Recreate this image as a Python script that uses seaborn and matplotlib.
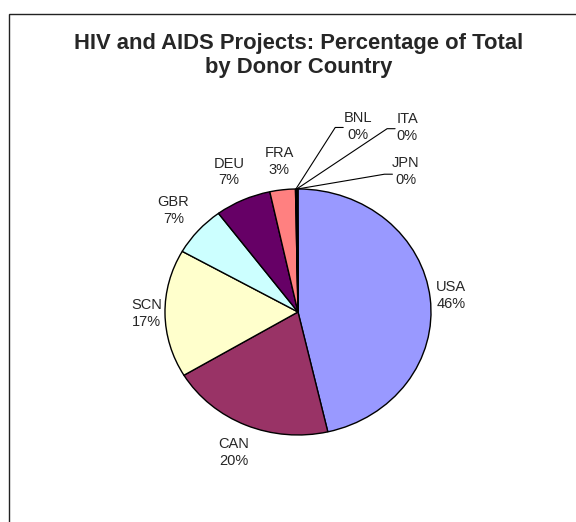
import numpy as np
import matplotlib
matplotlib.use("Agg")
import matplotlib.pyplot as plt
import seaborn as sns

# Share of HIV/AIDS projects by donor (clockwise from 12 o'clock)
donors = ["USA", "CAN", "SCN", "GBR", "DEU", "FRA", "BNL", "ITA", "JPN"]
shares = [46.4, 20.0, 16.8, 6.6, 6.8, 3.1, 0.1, 0.1, 0.1]
colors = ["#9999FF", "#993366", "#FFFFCC", "#CCFFFF", "#660066",
          "#FF8080", "#0066CC", "#CCCCFF", "#000080"]

# label distance from centre for the big slices
label_dist = [1.16, 1.24, 1.14, 1.25, 1.25, 1.23]
# the tiny slices get labels pulled out with leader lines
small_label_pos = {"BNL": (0.45, 1.51), "ITA": (0.82, 1.50), "JPN": (0.81, 1.14)}
small_elbow = {"BNL": (0.28, 1.50), "ITA": (0.67, 1.49), "JPN": (0.65, 1.12)}

sns.set_theme(style="white")
plt.rcParams["font.family"] = ["Liberation Sans", "DejaVu Sans"]

fig = plt.figure(figsize=(5.76, 5.22), dpi=100)
fig.patch.set_facecolor("white")

# chart area border (runs off right/bottom edge like the original crop)
fig.add_artist(plt.Rectangle((9 / 576, -0.05), 1.2, 1 - 13.5 / 522 + 0.05,
                             transform=fig.transFigure, fill=False,
                             edgecolor="#222222", linewidth=1.0))

fig.text(299 / 576, 1 - 49 / 522, "HIV and AIDS Projects: Percentage of Total",
         ha="center", va="baseline", fontsize=15.8, fontweight="bold")
fig.text(299 / 576, 1 - 73 / 522, "by Donor Country",
         ha="center", va="baseline", fontsize=15.8, fontweight="bold")

# axes sized so the pie comes out slightly oval, like the Excel original
ax = fig.add_axes([0.2287, 0.1078, 0.5773, 0.5891])
wedges, _ = ax.pie(shares, colors=colors, startangle=90, counterclock=False,
                   wedgeprops=dict(edgecolor="black", linewidth=1.0))
ax.set_aspect("auto")
ax.set_xlim(-1.25, 1.25)
ax.set_ylim(-1.25, 1.25)
ax.axis("off")

pct = [f"{v:.0f}%" for v in shares]

for i, (w, name) in enumerate(zip(wedges, donors)):
    mid = np.deg2rad((w.theta1 + w.theta2) / 2)
    txt = f"{name}\n{pct[i]}"
    if name in small_label_pos:
        lx, ly = small_label_pos[name]
        ex, ey = small_elbow[name]
        ax.plot([np.cos(mid), ex, ex + 0.06], [np.sin(mid), ey, ey],
                color="black", linewidth=0.8, clip_on=False)
        ax.text(lx, ly, txt, ha="center", va="center", fontsize=10.5,
                linespacing=1.25, clip_on=False)
    else:
        d = label_dist[i]
        ax.text(d * np.cos(mid), d * np.sin(mid), txt, ha="center", va="center",
                fontsize=10.5, linespacing=1.25, clip_on=False)

plt.savefig("out.png", dpi=100)
